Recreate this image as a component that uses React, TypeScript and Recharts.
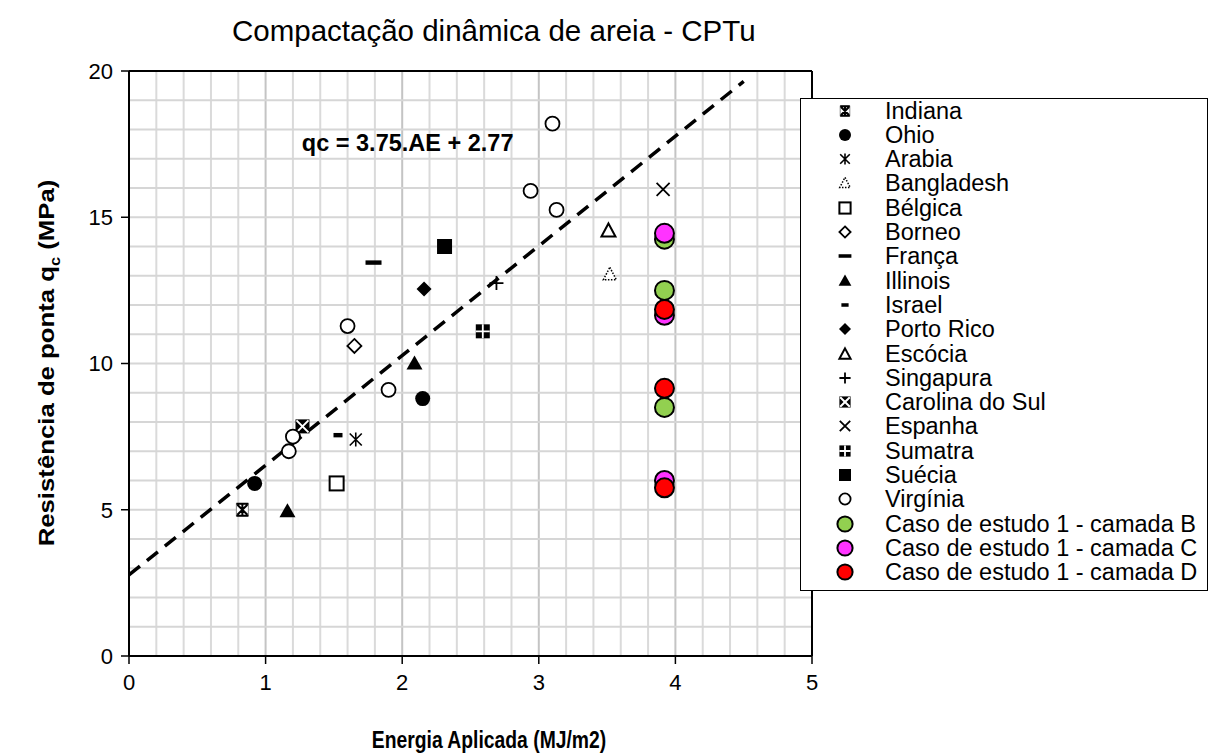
import React from 'react'
import {
  ScatterChart, Scatter, XAxis, YAxis, ReferenceLine, ReferenceDot,
} from 'recharts'

const FONT = '"Liberation Sans", Arial, sans-serif'

// pontos dos casos de referência: AE (MJ/m2) x qc (MPa)
const INDIANA = [{ x: 0.83, y: 5.0 }]
const OHIO = [{ x: 0.92, y: 5.9 }, { x: 2.15, y: 8.8 }]
const ARABIA = [{ x: 1.66, y: 7.4 }]
const BANGLADESH = [{ x: 3.52, y: 13.05 }]
const BELGICA = [{ x: 1.52, y: 5.9 }]
const BORNEO = [{ x: 1.65, y: 10.6 }]
const FRANCA = [{ x: 1.79, y: 13.45 }]
const ILLINOIS = [{ x: 1.16, y: 4.95 }, { x: 2.09, y: 10.0 }]
const ISRAEL = [{ x: 1.53, y: 7.55 }]
const PORTO_RICO = [{ x: 2.16, y: 12.55 }]
const ESCOCIA = [{ x: 3.51, y: 14.55 }]
const SINGAPURA = [{ x: 2.69, y: 12.75 }]
const CAROLINA_SUL = [{ x: 1.27, y: 7.85 }]
const ESPANHA = [{ x: 3.91, y: 15.95 }]
const SUMATRA = [{ x: 2.59, y: 11.1 }]
const SUECIA = [{ x: 2.31, y: 14.0 }]
const VIRGINIA = [
  { x: 3.1, y: 18.2 }, { x: 2.94, y: 15.9 }, { x: 3.13, y: 15.25 },
  { x: 1.6, y: 11.28 }, { x: 1.9, y: 9.1 }, { x: 1.2, y: 7.5 }, { x: 1.17, y: 7.0 },
]
// caso de estudo 1
const CAMADA_B = [{ x: 3.92, y: 14.25 }, { x: 3.92, y: 12.5 }, { x: 3.92, y: 8.5 }]
const CAMADA_C = [{ x: 3.92, y: 14.45 }, { x: 3.92, y: 11.65 }, { x: 3.92, y: 6.0 }]
const CAMADA_D = [{ x: 3.92, y: 11.85 }, { x: 3.92, y: 9.15 }, { x: 3.92, y: 5.75 }]

// linha de tendência qc = 3.75.AE + 2.77
const TREND_SLOPE = 3.75
const TREND_INTERCEPT = 2.77
const TREND_X = [0, 4.5]
const TREND_TEXT = 'qc = 3.75.AE + 2.77'

const X_TICKS = [0, 1, 2, 3, 4, 5]
const X_MINOR = [0.2, 0.4, 0.6, 0.8, 1, 1.2, 1.4, 1.6, 1.8, 2, 2.2, 2.4, 2.6, 2.8, 3, 3.2, 3.4, 3.6, 3.8, 4, 4.2, 4.4, 4.6, 4.8]
const Y_TICKS = [0, 5, 10, 15, 20]
const Y_MINOR = [1, 2, 3, 4, 5, 6, 7, 8, 9, 10, 11, 12, 13, 14, 15, 16, 17, 18, 19]

const SERIES = [
  { name: 'Indiana', kind: 'indiana', data: INDIANA },
  { name: 'Ohio', kind: 'circleFill', data: OHIO },
  { name: 'Arabia', kind: 'asterisk', data: ARABIA },
  { name: 'Bangladesh', kind: 'triDotted', data: BANGLADESH },
  { name: 'Bélgica', kind: 'squareOpen', data: BELGICA },
  { name: 'Borneo', kind: 'diamondOpen', data: BORNEO },
  { name: 'França', kind: 'dashThick', data: FRANCA },
  { name: 'Illinois', kind: 'triFill', data: ILLINOIS },
  { name: 'Israel', kind: 'dashSmall', data: ISRAEL },
  { name: 'Porto Rico', kind: 'diamondFill', data: PORTO_RICO },
  { name: 'Escócia', kind: 'triOpen', data: ESCOCIA },
  { name: 'Singapura', kind: 'plus', data: SINGAPURA },
  { name: 'Carolina do Sul', kind: 'boxX', data: CAROLINA_SUL },
  { name: 'Espanha', kind: 'cross', data: ESPANHA },
  { name: 'Sumatra', kind: 'boxPlus', data: SUMATRA },
  { name: 'Suécia', kind: 'squareFill', data: SUECIA },
  { name: 'Virgínia', kind: 'circleOpen', data: VIRGINIA },
  { name: 'Caso de estudo 1 - camada B', kind: 'dot', color: '#92d050', data: CAMADA_B },
  { name: 'Caso de estudo 1 - camada C', kind: 'dot', color: '#ff33ff', data: CAMADA_C },
  { name: 'Caso de estudo 1 - camada D', kind: 'dot', color: '#ff0000', data: CAMADA_D },
]

function Marker({ kind, cx, cy, color, s = 1 }: any) {
  const k = (v: number) => v * s
  switch (kind) {
    case 'indiana':
      return (
        <g>
          <rect x={cx - k(6)} y={cy - k(6)} width={k(12)} height={k(12)} fill="#fff" stroke="#888" strokeWidth={1} />
          <path d={`M${cx - k(5)},${cy - k(5)}L${cx + k(5)},${cy + k(5)}M${cx + k(5)},${cy - k(5)}L${cx - k(5)},${cy + k(5)}M${cx},${cy - k(6)}L${cx},${cy + k(6)}M${cx - k(6)},${cy - k(6)}L${cx + k(6)},${cy - k(6)}M${cx - k(6)},${cy + k(6)}L${cx + k(6)},${cy + k(6)}`} stroke="#000" strokeWidth={2} />
        </g>
      )
    case 'circleFill':
      return <circle cx={cx} cy={cy} r={k(7.5)} fill="#000" />
    case 'asterisk':
      return <path d={`M${cx - k(6)},${cy - k(6)}L${cx + k(6)},${cy + k(6)}M${cx + k(6)},${cy - k(6)}L${cx - k(6)},${cy + k(6)}M${cx},${cy - k(7)}L${cx},${cy + k(7)}`} stroke="#000" strokeWidth={1.6} fill="none" />
    case 'triDotted':
      return <path d={`M${cx},${cy - k(7)}L${cx + k(6.5)},${cy + k(5.5)}L${cx - k(6.5)},${cy + k(5.5)}Z`} stroke="#000" strokeWidth={1.5} strokeDasharray="1.5 1.5" fill="#fff" />
    case 'squareOpen':
      return <rect x={cx - k(7)} y={cy - k(7)} width={k(14)} height={k(14)} fill="#fff" stroke="#000" strokeWidth={2} />
    case 'diamondOpen':
      return <path d={`M${cx},${cy - k(7)}L${cx + k(7)},${cy}L${cx},${cy + k(7)}L${cx - k(7)},${cy}Z`} stroke="#000" strokeWidth={1.8} fill="#fff" />
    case 'dashThick':
      return <rect x={cx - k(8)} y={cy - k(2.2)} width={k(16)} height={k(4.4)} fill="#000" />
    case 'triFill':
      return <path d={`M${cx},${cy - k(8)}L${cx + k(8)},${cy + k(6)}L${cx - k(8)},${cy + k(6)}Z`} fill="#000" />
    case 'dashSmall':
      return <rect x={cx - k(4.5)} y={cy - k(2.2)} width={k(9)} height={k(4.4)} fill="#000" />
    case 'diamondFill':
      return <path d={`M${cx},${cy - k(7.5)}L${cx + k(7.5)},${cy}L${cx},${cy + k(7.5)}L${cx - k(7.5)},${cy}Z`} fill="#000" />
    case 'triOpen':
      return <path d={`M${cx},${cy - k(7)}L${cx + k(7)},${cy + k(6)}L${cx - k(7)},${cy + k(6)}Z`} stroke="#000" strokeWidth={2} fill="#fff" />
    case 'plus':
      return <path d={`M${cx - k(7)},${cy}L${cx + k(7)},${cy}M${cx},${cy - k(7)}L${cx},${cy + k(7)}`} stroke="#000" strokeWidth={1.8} />
    case 'boxX':
      return (
        <g>
          <rect x={cx - k(7)} y={cy - k(7)} width={k(14)} height={k(14)} fill="#000" />
          <path d={`M${cx - k(6)},${cy - k(6)}L${cx + k(6)},${cy + k(6)}M${cx + k(6)},${cy - k(6)}L${cx - k(6)},${cy + k(6)}`} stroke="#fff" strokeWidth={2} />
        </g>
      )
    case 'cross':
      return <path d={`M${cx - k(6.5)},${cy - k(6.5)}L${cx + k(6.5)},${cy + k(6.5)}M${cx + k(6.5)},${cy - k(6.5)}L${cx - k(6.5)},${cy + k(6.5)}`} stroke="#000" strokeWidth={1.8} />
    case 'boxPlus':
      return (
        <g>
          <rect x={cx - k(7)} y={cy - k(7)} width={k(14)} height={k(14)} fill="#000" />
          <path d={`M${cx - k(7)},${cy}L${cx + k(7)},${cy}M${cx},${cy - k(7)}L${cx},${cy + k(7)}`} stroke="#fff" strokeWidth={1.8} />
        </g>
      )
    case 'squareFill':
      return <rect x={cx - k(7.5)} y={cy - k(7.5)} width={k(15)} height={k(15)} fill="#000" />
    case 'circleOpen':
      return <circle cx={cx} cy={cy} r={k(7)} fill="#fff" stroke="#000" strokeWidth={1.8} />
    case 'dot':
      return <circle cx={cx} cy={cy} r={k(9.5)} fill={color} stroke="#000" strokeWidth={2} />
    default:
      return null
  }
}

const trendSegment = TREND_X.map(x => ({ x, y: TREND_SLOPE * x + TREND_INTERCEPT }))

export default function App() {
  return (
    <div style={{ position: 'absolute', left: 0, top: 0, width: 1209, height: 753, background: '#fff', fontFamily: FONT, color: '#000' }}>
      <ScatterChart width={1209} height={753} margin={{ top: 71, right: 397, bottom: 0, left: 0 }}>
        {/* grelha */}
        {X_MINOR.map(v => (
          <ReferenceLine key={'gx' + v} x={v} stroke={Number.isInteger(v) ? '#c4c4c4' : '#dadada'} strokeWidth={2} />
        ))}
        {Y_MINOR.map(v => (
          <ReferenceLine key={'gy' + v} y={v} stroke="#d6d6d6" strokeWidth={2} />
        ))}
        <ReferenceLine y={20} stroke="#000" strokeWidth={2} />
        <ReferenceLine x={5} stroke="#000" strokeWidth={2} />

        <XAxis
          type="number" dataKey="x" domain={[0, 5]} ticks={X_TICKS} allowDataOverflow
          height={97} tickSize={8} tickMargin={10}
          axisLine={{ stroke: '#000', strokeWidth: 2 }} tickLine={{ stroke: '#000', strokeWidth: 1.5 }}
          tick={{ fill: '#000', fontSize: 22, fontFamily: FONT }}
        />
        <YAxis
          type="number" dataKey="y" domain={[0, 20]} ticks={Y_TICKS} allowDataOverflow
          width={129} tickSize={8} tickMargin={8}
          axisLine={{ stroke: '#000', strokeWidth: 2 }} tickLine={{ stroke: '#000', strokeWidth: 1.5 }}
          tick={{ fill: '#000', fontSize: 22, fontFamily: FONT }}
        />
        <XAxis
          xAxisId="minor" type="number" domain={[0, 5]} ticks={X_MINOR} allowDataOverflow
          mirror height={0} axisLine={false} tick={false} tickSize={5}
          tickLine={{ stroke: '#000', strokeWidth: 1.5 }}
        />
        <YAxis
          yAxisId="minor" type="number" domain={[0, 20]} ticks={Y_MINOR} allowDataOverflow
          mirror width={0} axisLine={false} tick={false} tickSize={5}
          tickLine={{ stroke: '#000', strokeWidth: 1.5 }}
        />

        <ReferenceLine
          segment={trendSegment}
          stroke="#000" strokeWidth={3.5} strokeDasharray="14 9"
        />
        <ReferenceDot
          x={2.04} y={17.55} r={0} fill="none" stroke="none"
          label={{ value: TREND_TEXT, position: 'center', fill: '#000', fontSize: 23.5, fontWeight: 'bold', fontFamily: FONT }}
        />

        {SERIES.map(s => (
          <Scatter
            key={s.name}
            name={s.name}
            data={s.data}
            isAnimationActive={false}
            shape={(p: any) => <Marker kind={s.kind} color={s.color} cx={p.cx} cy={p.cy} />}
          />
        ))}
      </ScatterChart>

      {/* título */}
      <div style={{ position: 'absolute', left: 232, top: 13, fontSize: 29.5, whiteSpace: 'nowrap', lineHeight: '36px' }}>
        Compactação dinâmica de areia - CPTu
      </div>

      {/* títulos dos eixos */}
      <div style={{
        position: 'absolute', left: 489, top: 740, fontSize: 23, fontWeight: 'bold', whiteSpace: 'nowrap', lineHeight: '22px',
        transform: 'translate(-50%, -50%) scaleX(0.84)',
      }}>
        Energia Aplicada (MJ/m2)
      </div>
      <div style={{
        position: 'absolute', left: 51, top: 363, fontSize: 22, fontWeight: 'bold', whiteSpace: 'nowrap', lineHeight: '26px',
        transform: 'translate(-50%, -50%) rotate(-90deg) scaleX(1.17)',
      }}>
        Resistência de ponta q<sub style={{ fontSize: 14 }}>c</sub> (MPa)
      </div>

      {/* legenda */}
      <div style={{ position: 'absolute', left: 800, top: 98, width: 408, height: 493, boxSizing: 'border-box', border: '1.5px solid #000', background: '#fff' }}>
        {SERIES.map((s, i) => (
          <div key={s.name} style={{ position: 'absolute', left: 0, top: -0.5 + i * 24.3, height: 24, width: '100%' }}>
            <svg width={30} height={24} style={{ position: 'absolute', left: 29, top: 0 }}>
              <Marker kind={s.kind} color={s.color} cx={15} cy={12} s={0.8} />
            </svg>
            <span style={{ position: 'absolute', left: 84, top: 0, fontSize: 23.5, lineHeight: '24px', whiteSpace: 'nowrap' }}>{s.name}</span>
          </div>
        ))}
      </div>
    </div>
  )
}
